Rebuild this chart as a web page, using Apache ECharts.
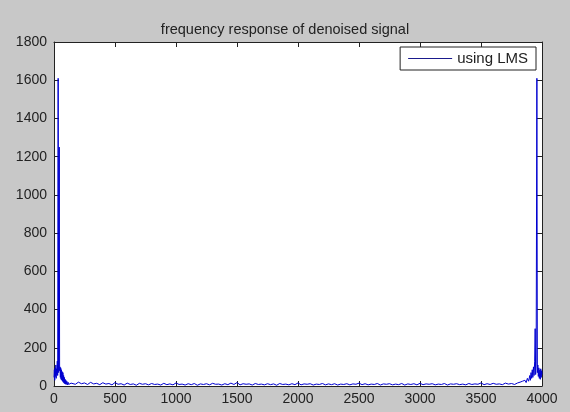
<!DOCTYPE html>
<html>
<head>
<meta charset="UTF-8" />
<script src="https://cdn.jsdelivr.net/npm/echarts@6/dist/echarts.min.js"></script>
<style>
  html, body, #main { margin: 0; padding: 0; width: 570px; height: 412px; background: #c8c8c8; }
</style>
</head>
<body>
<div id="main"></div>
<script>
  // [frequency, magnitude]
  const lowBand = [
    [0, 45], [3, 85], [6, 30], [9, 95], [12, 50], [15, 110], [18, 40], [21, 90],
    [24, 60], [27, 130], [30, 55], [34, 1610], [38, 70], [43, 1250], [46, 80],
    [49, 100], [52, 45], [55, 95], [58, 35], [61, 85], [64, 30], [67, 75],
    [70, 25], [73, 70], [76, 20], [79, 55], [82, 15], [85, 45], [88, 12],
    [91, 35], [94, 10], [97, 30], [100, 8], [105, 25], [110, 6], [115, 20],
    [120, 8], [125, 18], [130, 5], [140, 15]
  ];
  const midBand = [
    [150, 18], [175, 9], [200, 20], [225, 12], [250, 16], [275, 8], [300, 19], [325, 11],
    [350, 14], [375, 7], [400, 17], [425, 10], [450, 13], [475, 6], [500, 18], [525, 9],
    [550, 12], [575, 5], [600, 15], [625, 8], [650, 11], [675, 4], [700, 14], [725, 9],
    [750, 12], [775, 6], [800, 13], [825, 8], [850, 10], [875, 5], [900, 14], [925, 7],
    [950, 11], [975, 6], [1000, 16], [1025, 8], [1050, 10], [1075, 5], [1100, 12], [1125, 7],
    [1150, 13], [1175, 4], [1200, 11], [1225, 8], [1250, 12], [1275, 6], [1300, 14], [1325, 9],
    [1350, 10], [1375, 5], [1400, 12], [1425, 7], [1450, 15], [1475, 8], [1500, 18], [1525, 6],
    [1550, 12], [1575, 9], [1600, 11], [1625, 5], [1650, 13], [1675, 8], [1700, 10], [1725, 6],
    [1750, 12], [1775, 7], [1800, 11], [1825, 4], [1850, 13], [1875, 8], [1900, 10], [1925, 6],
    [1950, 12], [1975, 7], [2000, 16], [2025, 6], [2050, 11], [2075, 9], [2100, 12], [2125, 5],
    [2150, 10], [2175, 8], [2200, 13], [2225, 6], [2250, 11], [2275, 7], [2300, 12], [2325, 5],
    [2350, 10], [2375, 8], [2400, 12], [2425, 6], [2450, 11], [2475, 9], [2500, 15], [2525, 7],
    [2550, 12], [2575, 6], [2600, 10], [2625, 8], [2650, 13], [2675, 5], [2700, 11], [2725, 9],
    [2750, 12], [2775, 6], [2800, 10], [2825, 7], [2850, 13], [2875, 5], [2900, 11], [2925, 8],
    [2950, 12], [2975, 6], [3000, 14], [3025, 7], [3050, 11], [3075, 9], [3100, 12], [3125, 6],
    [3150, 10], [3175, 8], [3200, 13], [3225, 5], [3250, 11], [3275, 9], [3300, 12], [3325, 7],
    [3350, 10], [3375, 6], [3400, 13], [3425, 8], [3450, 11], [3475, 9], [3500, 16], [3525, 7],
    [3550, 12], [3575, 8], [3600, 14], [3625, 9], [3650, 11], [3675, 7], [3700, 15], [3725, 10],
    [3750, 13], [3775, 8], [3800, 16]
  ];
  const highBand = [
    [3810, 12], [3820, 20], [3830, 10], [3840, 25], [3850, 15], [3860, 30], [3870, 18],
    [3880, 40], [3890, 25], [3900, 55], [3905, 30], [3910, 70], [3915, 40], [3920, 85],
    [3925, 45], [3930, 100], [3935, 55], [3940, 130], [3944, 300], [3948, 60], [3952, 120],
    [3958, 1610], [3962, 70], [3966, 110], [3970, 50], [3974, 95], [3978, 40], [3982, 85],
    [3986, 35], [3990, 90], [3994, 45], [3997, 80], [4000, 60]
  ];
  const xTicks = [0, 500, 1000, 1500, 2000, 2500, 3000, 3500, 4000];
  const yTicks = [0, 200, 400, 600, 800, 1000, 1200, 1400, 1600, 1800];

  const chart = echarts.init(document.getElementById('main'));
  const font = 'Liberation Sans, Arial, sans-serif';
  const boxAxis = {
    axisLine: { show: true, onZero: false, lineStyle: { color: '#222', width: 1 } },
    axisTick: { show: true, inside: true, length: 5, lineStyle: { color: '#222' } },
    splitLine: { show: false }
  };
  const option = {
    backgroundColor: '#c8c8c8',
    animation: false,
    title: {
      text: 'frequency response of denoised signal',
      left: 'center', top: 17,
      textStyle: { fontFamily: font, fontSize: 14.5, fontWeight: 'normal', color: '#222' }
    },
    legend: {
      data: ['using LMS'],
      right: 34, top: 47,
      backgroundColor: '#fff',
      borderColor: '#222', borderWidth: 1, borderRadius: 0,
      padding: [4, 8, 4, 8],
      itemWidth: 44, itemHeight: 1,
      itemGap: 6,
      icon: 'rect',
      textStyle: { fontFamily: font, fontSize: 15, color: '#222' }
    },
    grid: { left: 54, right: 28, top: 42, bottom: 26, backgroundColor: '#fff', show: true, borderWidth: 0 },
    xAxis: [Object.assign({
      type: 'value', position: 'bottom', min: 0, max: 4000, interval: 500,
      axisLabel: { fontFamily: font, fontSize: 14, color: '#222', margin: 6,
        formatter: v => xTicks.includes(v) ? String(v) : '' }
    }, boxAxis), Object.assign({
      type: 'value', position: 'top', min: 0, max: 4000, interval: 500,
      axisLabel: { show: false }
    }, boxAxis)],
    yAxis: [Object.assign({
      type: 'value', position: 'left', min: 0, max: 1800, interval: 200,
      axisLabel: { fontFamily: font, fontSize: 14, color: '#222', margin: 7,
        formatter: v => yTicks.includes(v) ? String(v) : '' }
    }, boxAxis), Object.assign({
      type: 'value', position: 'right', min: 0, max: 1800, interval: 200,
      axisLabel: { show: false }
    }, boxAxis)],
    series: [{
      name: 'using LMS',
      type: 'line',
      data: lowBand.concat(midBand, highBand),
      showSymbol: false,
      lineStyle: { color: '#0000d0', width: 1 },
      itemStyle: { color: '#1a1a8c' }
    }]
  };
  chart.setOption(option);
</script>
</body>
</html>
